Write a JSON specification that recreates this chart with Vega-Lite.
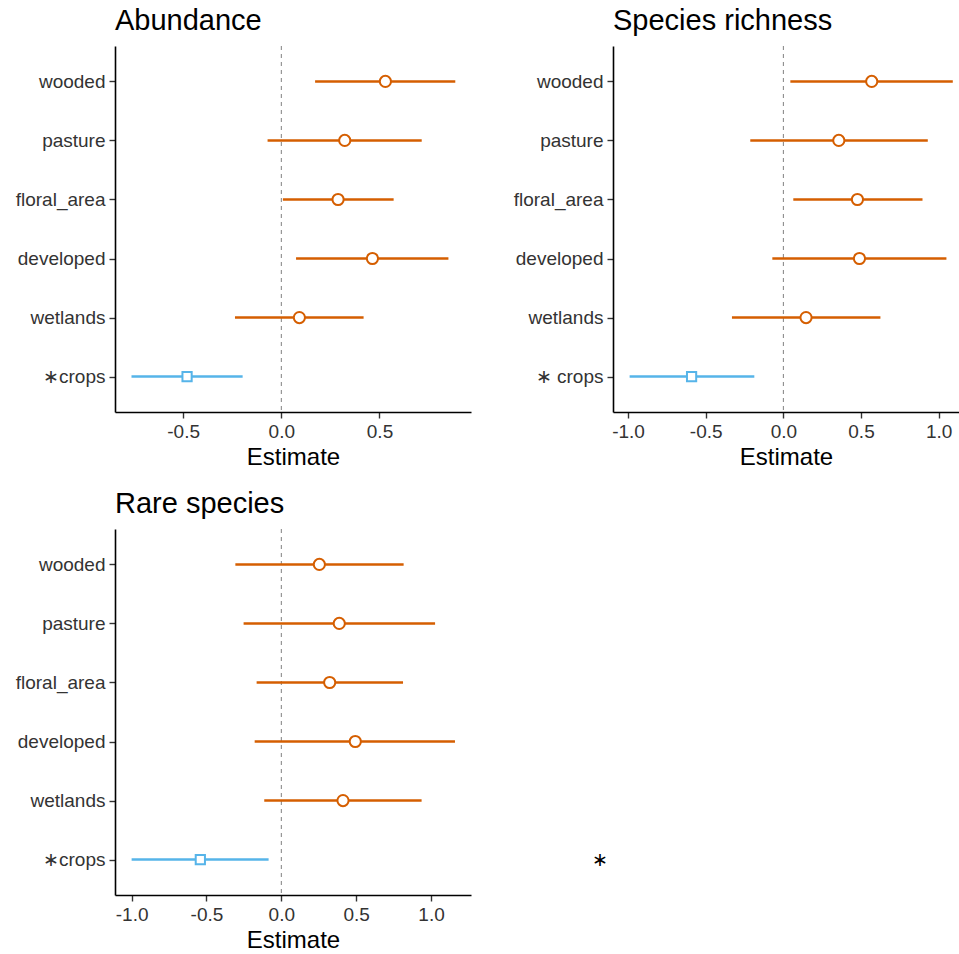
{
  "$schema": "https://vega.github.io/schema/vega-lite/v6.json",
  "padding": {"left": 15, "top": 6, "right": 0, "bottom": 0},
  "background": "white",
  "datasets": {
    "est": [
      {"panel": "Abundance", "term": "wooded", "lo": 0.172, "est": 0.530, "hi": 0.886, "sig": "no"},
      {"panel": "Abundance", "term": "pasture", "lo": -0.070, "est": 0.323, "hi": 0.715, "sig": "no"},
      {"panel": "Abundance", "term": "floral_area", "lo": 0.008, "est": 0.289, "hi": 0.572, "sig": "no"},
      {"panel": "Abundance", "term": "developed", "lo": 0.075, "est": 0.464, "hi": 0.851, "sig": "no"},
      {"panel": "Abundance", "term": "wetlands", "lo": -0.236, "est": 0.092, "hi": 0.419, "sig": "no"},
      {"panel": "Abundance", "term": "∗crops", "lo": -0.763, "est": -0.480, "hi": -0.197, "sig": "yes"},
      {"panel": "Species richness", "term": "wooded", "lo": 0.045, "est": 0.569, "hi": 1.091, "sig": "no"},
      {"panel": "Species richness", "term": "pasture", "lo": -0.213, "est": 0.357, "hi": 0.930, "sig": "no"},
      {"panel": "Species richness", "term": "floral_area", "lo": 0.064, "est": 0.477, "hi": 0.896, "sig": "no"},
      {"panel": "Species richness", "term": "developed", "lo": -0.071, "est": 0.490, "hi": 1.050, "sig": "no"},
      {"panel": "Species richness", "term": "wetlands", "lo": -0.331, "est": 0.146, "hi": 0.625, "sig": "no"},
      {"panel": "Species richness", "term": "∗ crops", "lo": -0.990, "est": -0.591, "hi": -0.187, "sig": "yes"},
      {"panel": "Rare species", "term": "wooded", "lo": -0.307, "est": 0.254, "hi": 0.817, "sig": "no"},
      {"panel": "Rare species", "term": "pasture", "lo": -0.252, "est": 0.387, "hi": 1.027, "sig": "no"},
      {"panel": "Rare species", "term": "floral_area", "lo": -0.165, "est": 0.323, "hi": 0.813, "sig": "no"},
      {"panel": "Rare species", "term": "developed", "lo": -0.178, "est": 0.494, "hi": 1.160, "sig": "no"},
      {"panel": "Rare species", "term": "wetlands", "lo": -0.114, "est": 0.412, "hi": 0.937, "sig": "no"},
      {"panel": "Rare species", "term": "∗crops", "lo": -1.000, "est": -0.541, "hi": -0.085, "sig": "yes"}
    ],
    "ref": [{"ref": 0}]
  },
  "config": {
    "view": {"stroke": null},
    "font": "Liberation Sans",
    "axis": {
      "grid": false, "domainColor": "#000000", "domainWidth": 1.6,
      "tickColor": "#333333", "tickWidth": 1.4, "tickSize": 6,
      "labelFontSize": 19, "labelColor": "#333333", "labelFont": "Liberation Sans",
      "titleFont": "Liberation Sans", "titleFontSize": 24, "titleFontWeight": "normal", "titleColor": "#000000"
    },
    "axisX": {"labelPadding": 4, "titlePadding": 4},
    "axisY": {"labelPadding": 4},
    "title": {"fontSize": 29, "fontWeight": "normal", "anchor": "start", "frame": "group", "color": "#000000", "font": "Liberation Sans", "offset": 10}
  },
  "spacing": 20,
  "vconcat": [
    {
      "spacing": 42,
      "hconcat": [
        {
          "title": "Abundance",
          "width": 356, "height": 366,
          "layer": [
            {
              "data": {"name": "ref"},
              "mark": {"type": "rule", "strokeDash": [4, 4], "color": "#808080", "strokeWidth": 1},
              "encoding": {
                "x": {"field": "ref", "type": "quantitative", "scale": {"domain": [-0.847, 0.966], "nice": false, "zero": false}, "axis": {"title": "Estimate", "values": [-0.5, 0, 0.5], "labelExpr": "datum.value < 0 ? '-' + format(-datum.value, '.1f') : format(datum.value, '.1f')"}}
              }
            },
            {
              "data": {"name": "est"},
              "transform": [{"filter": "datum.panel == 'Abundance'"}],
              "layer": [
                {
                  "mark": {"type": "rule", "strokeWidth": 2.5},
                  "encoding": {
                    "x": {"field": "lo", "type": "quantitative", "title": "Estimate"},
                    "x2": {"field": "hi"},
                    "y": {"field": "term", "type": "nominal", "scale": {"type": "point", "padding": 0.6, "domain": ["wooded", "pasture", "floral_area", "developed", "wetlands", "∗crops"]}, "axis": {"title": null}},
                    "color": {"field": "sig", "type": "nominal", "scale": {"domain": ["no", "yes"], "range": ["#D55E00", "#56B4E9"]}, "legend": null}
                  }
                },
                {
                  "mark": {"type": "point", "filled": false, "fill": "white", "strokeWidth": 2, "opacity": 1},
                  "encoding": {
                    "x": {"field": "est", "type": "quantitative", "title": "Estimate"},
                    "y": {"field": "term", "type": "nominal"},
                    "color": {"field": "sig", "type": "nominal", "legend": null},
                    "shape": {"field": "sig", "type": "nominal", "scale": {"domain": ["no", "yes"], "range": ["circle", "square"]}, "legend": null},
                    "size": {"field": "sig", "type": "nominal", "scale": {"domain": ["no", "yes"], "range": [125, 85]}, "legend": null}
                  }
                }
              ]
            }
          ]
        },
        {
          "title": "Species richness",
          "width": 346, "height": 366,
          "layer": [
            {
              "data": {"name": "ref"},
              "mark": {"type": "rule", "strokeDash": [4, 4], "color": "#808080", "strokeWidth": 1},
              "encoding": {
                "x": {"field": "ref", "type": "quantitative", "scale": {"domain": [-1.097, 1.131], "nice": false, "zero": false}, "axis": {"title": "Estimate", "values": [-1, -0.5, 0, 0.5, 1], "labelExpr": "datum.value < 0 ? '-' + format(-datum.value, '.1f') : format(datum.value, '.1f')"}}
              }
            },
            {
              "data": {"name": "est"},
              "transform": [{"filter": "datum.panel == 'Species richness'"}],
              "layer": [
                {
                  "mark": {"type": "rule", "strokeWidth": 2.5},
                  "encoding": {
                    "x": {"field": "lo", "type": "quantitative", "title": "Estimate"},
                    "x2": {"field": "hi"},
                    "y": {"field": "term", "type": "nominal", "scale": {"type": "point", "padding": 0.6, "domain": ["wooded", "pasture", "floral_area", "developed", "wetlands", "∗ crops"]}, "axis": {"title": null}},
                    "color": {"field": "sig", "type": "nominal", "scale": {"domain": ["no", "yes"], "range": ["#D55E00", "#56B4E9"]}, "legend": null}
                  }
                },
                {
                  "mark": {"type": "point", "filled": false, "fill": "white", "strokeWidth": 2, "opacity": 1},
                  "encoding": {
                    "x": {"field": "est", "type": "quantitative", "title": "Estimate"},
                    "y": {"field": "term", "type": "nominal"},
                    "color": {"field": "sig", "type": "nominal", "legend": null},
                    "shape": {"field": "sig", "type": "nominal", "scale": {"domain": ["no", "yes"], "range": ["circle", "square"]}, "legend": null},
                    "size": {"field": "sig", "type": "nominal", "scale": {"domain": ["no", "yes"], "range": [125, 85]}, "legend": null}
                  }
                }
              ]
            }
          ]
        }
      ]
    },
    {
      "spacing": 120,
      "hconcat": [
        {
          "title": "Rare species",
          "width": 356, "height": 366,
          "layer": [
            {
              "data": {"name": "ref"},
              "mark": {"type": "rule", "strokeDash": [4, 4], "color": "#808080", "strokeWidth": 1},
              "encoding": {
                "x": {"field": "ref", "type": "quantitative", "scale": {"domain": [-1.111, 1.267], "nice": false, "zero": false}, "axis": {"title": "Estimate", "values": [-1, -0.5, 0, 0.5, 1], "labelExpr": "datum.value < 0 ? '-' + format(-datum.value, '.1f') : format(datum.value, '.1f')"}}
              }
            },
            {
              "data": {"name": "est"},
              "transform": [{"filter": "datum.panel == 'Rare species'"}],
              "layer": [
                {
                  "mark": {"type": "rule", "strokeWidth": 2.5},
                  "encoding": {
                    "x": {"field": "lo", "type": "quantitative", "title": "Estimate"},
                    "x2": {"field": "hi"},
                    "y": {"field": "term", "type": "nominal", "scale": {"type": "point", "padding": 0.6, "domain": ["wooded", "pasture", "floral_area", "developed", "wetlands", "∗crops"]}, "axis": {"title": null}},
                    "color": {"field": "sig", "type": "nominal", "scale": {"domain": ["no", "yes"], "range": ["#D55E00", "#56B4E9"]}, "legend": null}
                  }
                },
                {
                  "mark": {"type": "point", "filled": false, "fill": "white", "strokeWidth": 2, "opacity": 1},
                  "encoding": {
                    "x": {"field": "est", "type": "quantitative", "title": "Estimate"},
                    "y": {"field": "term", "type": "nominal"},
                    "color": {"field": "sig", "type": "nominal", "legend": null},
                    "shape": {"field": "sig", "type": "nominal", "scale": {"domain": ["no", "yes"], "range": ["circle", "square"]}, "legend": null},
                    "size": {"field": "sig", "type": "nominal", "scale": {"domain": ["no", "yes"], "range": [125, 85]}, "legend": null}
                  }
                }
              ]
            }
          ]
        },
        {
          "width": 40, "height": 366,
          "data": {"name": "est"},
          "transform": [{"filter": "datum.panel == 'Rare species'"}],
          "mark": {"type": "point", "opacity": 0},
          "encoding": {
            "x": {"field": "est", "type": "quantitative", "axis": null},
            "y": {"field": "term", "type": "nominal", "scale": {"type": "point", "padding": 0.6, "domain": ["wooded", "pasture", "floral_area", "developed", "wetlands", "∗crops"]}, "axis": {"title": null, "domain": false, "ticks": false, "labelPadding": 7, "labelColor": "#000000", "labelExpr": "indexof(datum.value, '∗') == 0 ? '∗' : ''"}}
          }
        }
      ]
    }
  ]
}
